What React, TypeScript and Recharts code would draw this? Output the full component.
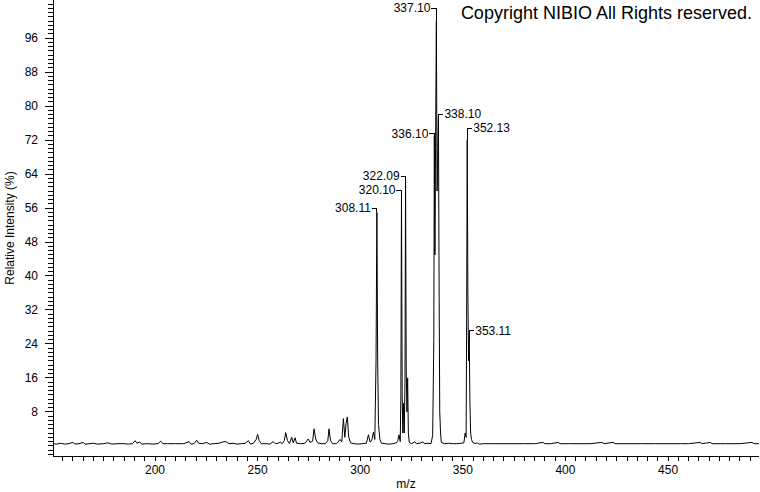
import { ComposedChart, Line, Scatter, XAxis, YAxis, ReferenceLine } from 'recharts';

// profile spectrum (m/z, relative intensity %)
const profileMz = [
  150.3, 152, 154, 156, 158, 160, 161, 163, 165, 166, 168, 170, 172, 175, 177, 179, 182, 185, 187, 189,
  190.3, 191.2, 192.5, 193.5, 196, 199, 201.5, 202.8, 203.8, 206, 210, 214, 216.6, 217.6, 219, 220.3,
  221.3, 223, 225.2, 226.5, 229, 231, 233, 234.5, 236, 238, 240, 242, 244, 245.5, 246.5, 248, 249.3,
  250, 250.8, 251.8, 254, 256, 257.6, 258.6, 260, 261, 262, 263, 263.7, 264.5, 265.5, 266.6, 267.4,
  268.2, 269, 271, 273, 274.7, 275.5, 276.8, 277.5, 278.3, 279.3, 281, 283, 284.2, 284.8, 285.5, 286.5,
  288.5, 290.2, 291, 291.8, 292.5, 293.1, 293.7, 294.4, 295.3, 297, 299, 301, 303, 304, 304.8, 305.6,
  306.4, 307.1, 307.7, 308.11, 308.5, 308.9, 309.6, 310.4, 312, 314, 316, 317.5, 318.3, 318.9, 319.5,
  319.8, 320.1, 320.45, 320.75, 321.1, 321.45, 321.8, 322.09, 322.4, 322.75, 323.1, 323.45, 323.9, 325,
  326.5, 327.5, 329, 330.5, 331.5, 333, 334.5, 335.3, 335.85, 336.1, 336.4, 336.7, 337.1, 337.45, 337.75,
  338.1, 338.45, 338.75, 339.1, 339.5, 341, 343, 345, 347, 349, 350.5, 351.1, 351.6, 351.85, 352.13,
  352.45, 352.8, 353.11, 353.45, 353.8, 354.2, 354.8, 356, 357, 358, 360, 365, 370, 375, 380, 385, 389,
  390, 393, 396.4, 397.4, 402, 408, 412, 417.8, 418.8, 423.2, 424.2, 430, 437, 444, 450, 456, 460, 465.6,
  466.6, 470.5, 471.5, 478, 485, 490.9, 491.9, 494.3,
];
const profileInt = [
  0.5, 0.4, 0.6, 0.4, 0.5, 0.8, 0.4, 0.5, 0.8, 0.4, 0.5, 0.6, 0.4, 0.5, 0.7, 0.4, 0.5, 0.5, 0.4, 0.5,
  1.2, 0.6, 0.9, 0.4, 0.5, 0.4, 0.5, 1.1, 0.5, 0.5, 0.5, 0.5, 1.0, 0.4, 0.5, 1.3,
  0.6, 0.5, 0.8, 0.4, 0.5, 0.6, 0.9, 1.0, 0.5, 0.6, 0.4, 0.5, 0.6, 1.2, 0.4, 0.6, 1.5,
  2.7, 1.2, 0.5, 0.5, 0.4, 1.0, 0.5, 0.6, 0.9, 0.5, 1.2, 3.1, 1.3, 0.5, 2.0, 0.7,
  1.9, 0.6, 0.5, 0.6, 1.6, 0.8, 1.1, 4.0, 1.6, 0.7, 0.5, 0.5, 1.2, 4.0, 1.3, 0.5,
  0.5, 1.5, 0.9, 6.4, 2.0, 5.2, 6.8, 2.0, 0.7, 0.5, 0.4, 0.5, 0.6, 2.6, 0.9, 1.2,
  3.2, 1.5, 20, 55, 20, 5, 1.5, 0.6, 0.5, 0.4, 0.5, 0.7, 1.2, 2.6, 1.0,
  12, 59, 12, 3, 10, 3, 15, 62.3, 18, 8, 16, 3, 0.8, 0.5,
  0.9, 0.5, 0.6, 0.9, 0.5, 0.6, 0.5, 2.5, 25, 73, 45, 70, 100, 60, 68,
  77.5, 35, 8, 3.5, 0.8, 0.5, 0.6, 0.5, 0.5, 0.6, 0.7, 3, 2, 30, 72,
  35, 20, 25.5, 10, 3, 1.5, 0.8, 0.5, 0.7, 0.4, 0.5, 0.5, 0.5, 0.5, 0.5, 0.5, 0.8,
  0.5, 0.5, 0.8, 0.5, 0.5, 0.5, 0.5, 0.8, 0.5, 0.8, 0.5, 0.5, 0.5, 0.5, 0.5, 0.5, 0.5, 0.8,
  0.5, 0.8, 0.5, 0.5, 0.5, 0.8, 0.5, 0.5,
];

// annotated peaks
const peakMz = [308.11, 320.1, 322.09, 336.1, 337.1, 338.1, 352.13, 353.11];
const peakTop = [55, 59, 62.3, 73, 100, 77.5, 72, 25.5];
const labelLevel = [56, 60.2, 63.5, 73.6, 103.1, 78.1, 74.8, 27.1];
const rightSide = [338.1, 352.13, 353.11];

const xLabels = [200, 250, 300, 350, 400, 450];
const yLabels = [8, 16, 24, 32, 40, 48, 56, 64, 72, 80, 88, 96];
const xTicks = Array.from({ length: 68 }, (_, i) => 155 + i * 5);
const yTicks = Array.from({ length: 107 }, (_, i) => i - 2);

const FONT = "'Liberation Sans', Arial, Helvetica, sans-serif";

const profile = profileMz.map((mz, i) => ({ mz, int: profileInt[i] }));
const labels = peakMz.map((mz, i) => ({ mz, level: labelLevel[i] }));

const YTick = (props: any) => {
  const { x, y, payload } = props;
  if (!yLabels.includes(payload.value)) return <g />;
  return (
    <g>
      <line x1={x - 3} x2={x} y1={y} y2={y} stroke="#000" shapeRendering="crispEdges" />
      <text x={x - 10} y={y} dy="0.355em" textAnchor="end" fontSize={12} fontFamily={FONT} fill="#000">
        {payload.value}
      </text>
    </g>
  );
};

const XTick = (props: any) => {
  const { x, y, payload } = props;
  if (!xLabels.includes(payload.value)) return <g />;
  return (
    <text x={x} y={y} dy="0.71em" textAnchor="middle" fontSize={12} fontFamily={FONT} fill="#000">
      {payload.value}
    </text>
  );
};

const PeakLabel = (props: any) => {
  const { cx, cy, payload } = props;
  const right = rightSide.includes(payload.mz);
  const dir = right ? 1 : -1;
  return (
    <g>
      <line x1={cx} x2={cx + dir * 5} y1={cy} y2={cy} stroke="#000" shapeRendering="crispEdges" />
      <text
        x={cx + dir * 6}
        y={cy}
        dy="0.355em"
        textAnchor={right ? 'start' : 'end'}
        fontSize={12}
        fontFamily={FONT}
        fill="#000"
      >
        {payload.mz.toFixed(2)}
      </text>
    </g>
  );
};

export default function App() {
  return (
    <div style={{ position: 'absolute', left: 0, top: 0, width: 760, height: 492, background: '#fff', fontFamily: FONT }}>
      <ComposedChart width={760} height={492} margin={{ top: 0, right: 1, bottom: 0, left: 0 }}>
        <XAxis
          dataKey="mz"
          type="number"
          domain={[150.3, 494.3]}
          ticks={xTicks}
          interval={0}
          tick={<XTick />}
          tickSize={5}
          tickMargin={4}
          height={36}
          stroke="#000"
          shapeRendering="crispEdges"
          allowDataOverflow
          label={{
            content: ({ viewBox }: any) => (
              <text
                x={viewBox.x + viewBox.width / 2}
                y={viewBox.y + 28}
                dy="0.355em"
                textAnchor="middle"
                fontSize={12}
                fontFamily={FONT}
                fill="#000"
              >
                m/z
              </text>
            ),
          }}
        />
        <YAxis
          type="number"
          domain={[-2.4, 105]}
          ticks={yTicks}
          interval={0}
          tick={<YTick />}
          tickSize={5}
          tickMargin={0}
          width={53}
          stroke="#000"
          shapeRendering="crispEdges"
          allowDataOverflow
          label={{
            content: ({ viewBox }: any) => {
              const cy = viewBox.y + viewBox.height / 2;
              return (
                <text
                  x={10}
                  y={cy}
                  dy="0.355em"
                  transform={`rotate(-90, 10, ${cy})`}
                  textAnchor="middle"
                  fontSize={12}
                  fontFamily={FONT}
                  fill="#000"
                >
                  Relative Intensity (%)
                </text>
              );
            },
          }}
        />
        <Line
          data={profile}
          dataKey="int"
          type="linear"
          stroke="#000"
          strokeWidth={1}
          dot={false}
          activeDot={false}
          isAnimationActive={false}
        />
        {peakMz.map((mz, i) => (
          <ReferenceLine
            key={mz}
            segment={[
              { x: mz, y: labelLevel[i] },
              { x: mz, y: peakTop[i] },
            ]}
            stroke="#000"
            shapeRendering="crispEdges"
            ifOverflow="visible"
          />
        ))}
        <Scatter data={labels} dataKey="level" shape={<PeakLabel />} isAnimationActive={false} />
      </ComposedChart>
      <div
        style={{
          position: 'absolute',
          right: 8,
          top: 3,
          fontSize: 18,
          fontFamily: FONT,
          color: '#000',
          whiteSpace: 'nowrap',
        }}
      >
        Copyright NIBIO All Rights reserved.
      </div>
    </div>
  );
}
